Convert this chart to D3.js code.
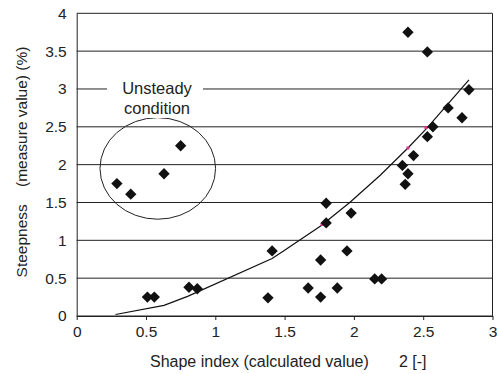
<!DOCTYPE html>
<html>
<head>
<meta charset="utf-8">
<script src="https://cdn.jsdelivr.net/npm/d3@7"></script>
<style>
  body { margin: 0; background: #fff; }
  text { font-family: "Liberation Sans", Arial, sans-serif; fill: #222; }
</style>
</head>
<body>
<div class="chart"></div>
<script>
// measured points (shape index, steepness %)
var shapeIndex = [0.29, 0.39, 0.63, 0.75, 0.51, 0.56, 0.81, 0.87,
    1.38, 1.41, 1.67, 1.76, 1.76, 1.80, 1.80, 1.88, 1.95, 1.98, 2.15, 2.20,
    2.35, 2.37, 2.39, 2.39, 2.43, 2.53, 2.57, 2.68, 2.78, 2.83, 2.53]
var steepness = [1.75, 1.61, 1.88, 2.25, 0.25, 0.25, 0.38, 0.36,
    0.24, 0.86, 0.37, 0.74, 0.25, 1.23, 1.49, 0.37, 0.86, 1.36, 0.49, 0.49,
    1.99, 1.74, 1.88, 3.75, 2.12, 2.37, 2.50, 2.75, 2.62, 2.99, 3.49]

// fitted curve
var curveX = [0.28, 0.63, 0.80, 1.41, 1.50, 1.76, 1.97, 2.19, 2.39, 2.53, 2.83]
var curveY = [0.02, 0.14, 0.26, 0.76, 0.87, 1.19, 1.50, 1.86, 2.22, 2.49, 3.12]

// small magenta marks on the curve
var markX = [1.77, 2.39, 2.52]
var markY = [1.21, 2.22, 2.49]

var xTicks = [0, 0.5, 1, 1.5, 2, 2.5, 3]
var yTicks = [0, 0.5, 1, 1.5, 2, 2.5, 3, 3.5, 4]

var W = 497, H = 374
var margin = { top: 13.3, right: 4.5, bottom: 58, left: 76.7 }

var svg = d3.select(".chart")
    .append("svg")
    .attr("width", W)
    .attr("height", H)

var x = d3.scaleLinear().domain([0, 3]).range([margin.left, W - margin.right])
var y = d3.scaleLinear().domain([0, 4]).range([H - margin.bottom, margin.top])

// horizontal grid
svg.append("g")
    .selectAll("line")
    .data(yTicks)
    .join("line")
    .attr("x1", x(0))
    .attr("x2", x(3))
    .attr("y1", function (d) { return y(d) })
    .attr("y2", function (d) { return y(d) })
    .attr("stroke", "#222")
    .attr("stroke-width", 1)

// right border
svg.append("line")
    .attr("x1", x(3)).attr("x2", x(3))
    .attr("y1", y(0)).attr("y2", y(4))
    .attr("stroke", "#222")

// x axis
svg.append("g")
    .attr("transform", "translate(0," + y(0) + ")")
    .call(d3.axisBottom(x).tickValues(xTicks).tickSize(4).tickSizeOuter(0)
        .tickFormat(d3.format("")))
    .call(g => g.select(".domain").attr("stroke", "#222"))
    .call(g => g.selectAll(".tick line").attr("stroke", "#222"))
    .call(g => g.selectAll(".tick text")
        .attr("dy", "0.71em").attr("y", 10)
        .style("font-family", "Liberation Sans, Arial, sans-serif")
        .style("font-size", "15.5px").attr("fill", "#222"))

// y axis
svg.append("g")
    .attr("transform", "translate(" + x(0) + ",0)")
    .call(d3.axisLeft(y).tickValues(yTicks).tickSize(0)
        .tickFormat(d3.format("")))
    .call(g => g.select(".domain").attr("stroke", "#222"))
    .call(g => g.selectAll(".tick text")
        .attr("x", -10)
        .style("font-family", "Liberation Sans, Arial, sans-serif")
        .style("font-size", "15.5px").attr("fill", "#222"))

// ellipse marking unsteady condition
svg.append("ellipse")
    .attr("cx", x(0.585))
    .attr("cy", y(1.95))
    .attr("rx", x(0.417) - x(0))
    .attr("ry", y(0) - y(0.671))
    .attr("fill", "none")
    .attr("stroke", "#222")
    .attr("stroke-width", 1)

// label with white background over the gridline
svg.append("rect")
    .attr("x", 107).attr("y", 78)
    .attr("width", 96).attr("height", 40)
    .attr("fill", "#fff")

svg.append("text")
    .attr("x", 157).attr("y", 94)
    .attr("text-anchor", "middle")
    .style("font-size", "16.5px")
    .text("Unsteady")
svg.append("text")
    .attr("x", 157).attr("y", 113.5)
    .attr("text-anchor", "middle")
    .style("font-size", "16.5px")
    .text("condition")

// curve
var line = d3.line()
    .x(function (d, i) { return x(curveX[i]) })
    .y(function (d, i) { return y(curveY[i]) })

svg.append("path")
    .datum(curveX)
    .attr("d", line)
    .attr("fill", "none")
    .attr("stroke", "#111")
    .attr("stroke-width", 1.2)

svg.append("g")
    .selectAll("rect")
    .data(markX)
    .join("rect")
    .attr("x", function (d) { return x(d) - 1.5 })
    .attr("y", function (d, i) { return y(markY[i]) - 1.5 })
    .attr("width", 3).attr("height", 3)
    .attr("fill", "#e0308a")

// diamonds
var diamond = d3.symbol().type(d3.symbolSquare).size(64)
svg.append("g")
    .selectAll("path")
    .data(shapeIndex)
    .join("path")
    .attr("d", diamond)
    .attr("transform", function (d, i) {
        return "translate(" + x(d) + "," + y(steepness[i]) + ") rotate(45)"
    })
    .attr("fill", "#111")

// axis titles
svg.append("text")
    .attr("x", 150).attr("y", 367)
    .style("font-size", "16px")
    .text("Shape index (calculated value)")
svg.append("text")
    .attr("x", 399).attr("y", 367)
    .style("font-size", "16px")
    .text("2 [-]")

svg.append("text")
    .attr("transform", "translate(27,162) rotate(-90)")
    .attr("text-anchor", "middle")
    .style("font-size", "15.5px")
    .style("white-space", "pre")
    .text("Steepness    (measure value) (%)")
</script>
</body>
</html>
